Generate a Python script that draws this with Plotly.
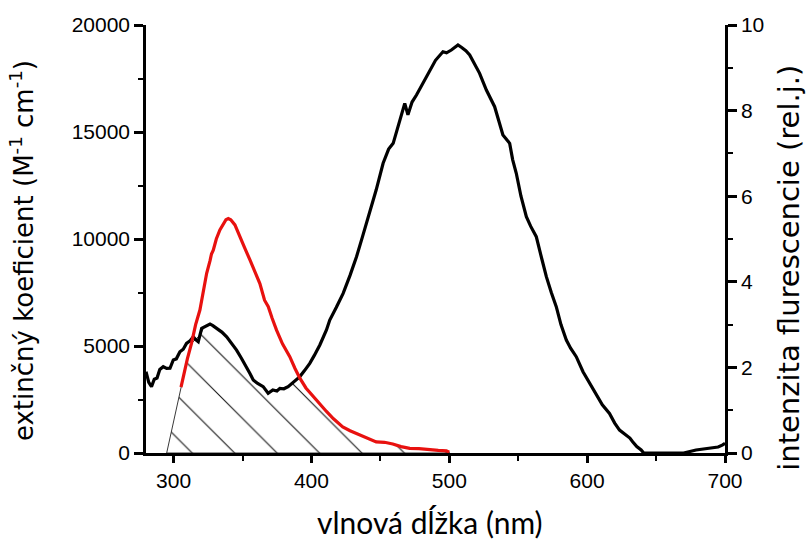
import numpy as np
import plotly.graph_objects as go

# Absorption spectrum (left axis): wavelength (nm), extinction coefficient
abs_wl = [280, 282, 284, 286, 288, 290, 292.5, 295, 297.4, 299.8, 302, 304.6, 307, 309.4, 312,
          314.3, 316, 317.9, 320.4, 323, 326.4, 328.5, 331.2, 335, 338.5, 342, 345.7, 349, 353,
          355.5, 357.8, 361, 365, 368.6, 372, 375, 377.1, 380, 383.1, 387, 391.6, 395, 398.8,
          402, 406.1, 410.9, 413.3, 418, 423, 428, 432.7, 437, 442.3, 447, 452, 456, 459.3, 463,
          467.7, 470, 473, 476.2, 481, 485.8, 490, 495.4, 498, 501.5, 504, 506.3, 509, 512,
          514.8, 518, 522, 526.9, 530, 532.9, 536, 538.9, 541, 543.8, 546, 548.6, 552, 555.9,
          559, 563.1, 567, 570.4, 574, 577.6, 581, 584.9, 588, 592.1, 597, 601.7, 606.5, 611,
          616.2, 620, 623.5, 626, 628.2, 631, 633, 636, 639.2, 641, 650, 660, 670, 679, 685,
          691, 695, 698, 700]
abs_eps = [3800, 3300, 3100, 3450, 3500, 3900, 4030, 3950, 3960, 4350, 4400, 4730, 4850, 5120,
           5250, 5430, 5300, 5200, 5830, 5900, 6030, 5950, 5830, 5650, 5430, 5150, 4810, 4450,
           4030, 3700, 3410, 3250, 3100, 2790, 2950, 2900, 3020, 3000, 3100, 3300, 3570, 3850,
           4190, 4550, 5050, 5750, 6215, 6800, 7460, 8300, 9170, 10100, 11200, 12300, 13540,
           14200, 14470, 15300, 16340, 15800, 16400, 16730, 17300, 17900, 18350, 18750, 18700,
           18830, 18950, 19070, 18950, 18800, 18600, 18200, 17740, 16963, 16600, 16183, 15500,
           14860, 14700, 14470, 13700, 13070, 12000, 11040, 10600, 10110, 9100, 8240, 7500,
           6840, 6000, 5280, 4900, 4500, 3800, 3260, 2710, 2250, 1850, 1400, 1070, 950, 840,
           700, 530, 300, 140, 0, 0, 0, 0, 140, 180, 220, 280, 370, 450]

# Fluorescence spectrum (right axis): wavelength (nm), relative intensity
fl_wl = [305.4, 308, 310, 313, 316, 319.1, 322, 324, 326.5, 327.5, 328.8, 331, 333.6, 336, 338,
         339.7, 341.5, 344.5, 348, 351.5, 355.4, 359, 362.6, 366, 368.7, 371.5, 374.7, 379,
         384.3, 388, 391.6, 396, 401.2, 406, 410.9, 416, 422.7, 428, 435, 441, 447, 453, 459,
         465, 471.3, 478, 485.8, 492, 497.9, 500]
fl_int = [1.54, 1.95, 2.2, 2.56, 3.0, 3.34, 3.8, 4.2, 4.5, 4.65, 4.74, 5.0, 5.21, 5.35, 5.45,
          5.48, 5.45, 5.33, 5.05, 4.8, 4.51, 4.25, 3.96, 3.57, 3.42, 3.15, 2.87, 2.55, 2.25,
          1.98, 1.75, 1.52, 1.32, 1.14, 0.97, 0.8, 0.61, 0.52, 0.42, 0.33, 0.26, 0.25, 0.21,
          0.15, 0.11, 0.1, 0.07, 0.06, 0.05, 0.02]

hatch_start_wl = 295          # foot of the hatched overlap region
x_ticks = [300, 400, 500, 600, 700]
y_ticks = [0, 5000, 10000, 15000, 20000]
y2_ticks = [0, 2, 4, 6, 8, 10]
Y_MAX, Y2_MAX = 20000, 10

x_title = "vlnová dĺžka (nm)"
y_title = "extinčný koeficient (M<sup>-1</sup> cm<sup>-1</sup>)"
y2_title = "intenzita flurescencie (rel.j.)"

# Overlap region: under the lower of the two spectra (fluorescence mapped to left scale)
scale = Y_MAX / Y2_MAX
fl_wl_a = np.array(fl_wl)
fl_scaled = np.array(fl_int) * scale
abs_at_fl = np.interp(fl_wl_a, abs_wl, abs_eps)
top = np.minimum(fl_scaled, abs_at_fl)
poly_x = [hatch_start_wl] + list(fl_wl_a) + [fl_wl[-1], hatch_start_wl]
poly_y = [0] + list(top) + [0, 0]

fig = go.Figure()
fig.add_trace(go.Scatter(
    x=poly_x, y=poly_y, mode="lines", fill="toself", fillcolor="rgba(0,0,0,0)",
    line=dict(color="#222", width=0.9),
    fillpattern=dict(shape="\\", size=30, solidity=0.035, fgcolor="#111", fgopacity=1,
                     bgcolor="rgba(0,0,0,0)"),
    hoverinfo="skip", showlegend=False))
fig.add_trace(go.Scatter(x=abs_wl, y=abs_eps, mode="lines",
                         line=dict(color="black", width=3.2), showlegend=False))
fig.add_trace(go.Scatter(x=fl_wl, y=fl_int, mode="lines", yaxis="y2",
                         line=dict(color="#e8110f", width=3.2), showlegend=False))

tickfont = dict(family="Liberation Sans, Arial", size=21, color="black")
axis_common = dict(showgrid=False, zeroline=False, showline=True, linecolor="black",
                   linewidth=2.5, ticks="outside", tickwidth=2.5, tickcolor="black",
                   tickfont=tickfont, automargin=False)
minor_common = dict(ticklen=5, tickwidth=2, tickcolor="black", ticks="outside")

fig.update_layout(
    width=809, height=542, plot_bgcolor="white", paper_bgcolor="white",
    margin=dict(l=146, r=84, t=25, b=89),
    xaxis=dict(range=[280, 700], tickvals=x_ticks, ticklen=7, **axis_common,
               minor=dict(dtick=50, **minor_common)),
    yaxis=dict(range=[0, Y_MAX], tickvals=y_ticks, tickformat="d", ticklen=9, **axis_common,
               minor=dict(dtick=2500, **minor_common)),
    yaxis2=dict(range=[0, Y2_MAX], tickvals=y2_ticks, overlaying="y", side="right",
                anchor="x", ticklen=9, **axis_common, minor=dict(dtick=1, **minor_common)),
    annotations=[
        dict(text=x_title, xref="paper", yref="paper", x=0.4905, y=-0.161,
             xanchor="center", yanchor="middle", showarrow=False,
             font=dict(family="Lato", size=30, color="black")),
        dict(text=y_title, xref="paper", yref="paper", x=-0.214, y=0.472, textangle=-90,
             xanchor="center", yanchor="middle", showarrow=False,
             font=dict(family="DejaVu Sans", size=26, color="black")),
        dict(text=y2_title, xref="paper", yref="paper", x=1.11, y=0.432, textangle=-90,
             xanchor="center", yanchor="middle", showarrow=False,
             font=dict(family="DejaVu Sans", size=29, color="black")),
    ],
)

fig.write_html("out.html")
